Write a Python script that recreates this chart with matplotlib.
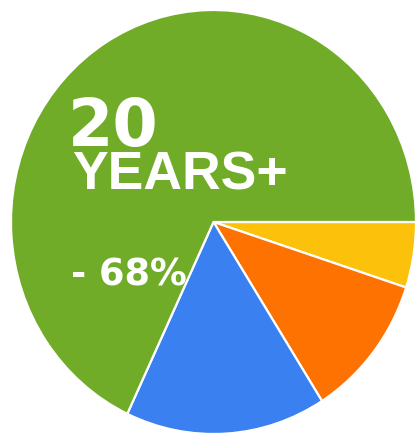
import matplotlib
matplotlib.use("Agg")
import matplotlib.pyplot as plt

# Data (clockwise from 3 o'clock)
labels = ["Under 5 years", "5-10 years", "10-20 years", "20 years+"]
values = [5, 11, 16, 68]
colors = ["#FBC10B", "#FD7200", "#3A80F0", "#71AC29"]

W, H = 416, 434
fig = plt.figure(figsize=(W / 100, H / 100), dpi=100)
fig.patch.set_facecolor("white")
ax = fig.add_axes([0, 0, 1, 1])

ax.pie(values, colors=colors, startangle=0, counterclock=False,
       radius=1.0, center=(0, 0),
       wedgeprops=dict(edgecolor="white", linewidth=1.6))

# Slightly elliptical pie, cropped at right and bottom edges
cx, cy = 213.5, 222.0
rx, ry = 202.5, 212.0
ax.set_aspect("auto")
ax.set_xlim(-cx / rx, (W - cx) / rx)
ax.set_ylim(-(H - cy) / ry, cy / ry)
ax.axis("off")

def fx(px):
    return px / W

def fy(py):
    return 1 - py / H

fig.text(fx(68), fy(146), "20", color="white", fontsize=47,
         fontweight="bold", family="DejaVu Sans", ha="left", va="baseline")
fig.text(fx(72), fy(190), "YEARS+", color="white", fontsize=38.5,
         fontweight="bold", family="Liberation Sans", ha="left", va="baseline")
fig.text(fx(71), fy(285), "- 68%", color="white", fontsize=26.5,
         fontweight="bold", family="DejaVu Sans", ha="left", va="baseline")

fig.savefig("out.png", dpi=100, facecolor="white")
